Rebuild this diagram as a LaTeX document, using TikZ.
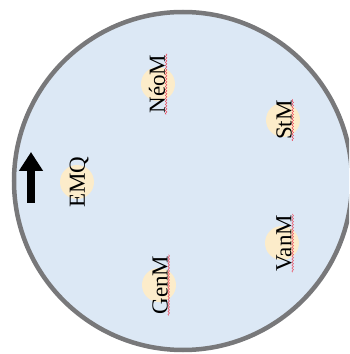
\documentclass[tikz,border=0pt]{standalone}
\usepackage{fontspec}
\setmainfont{Liberation Serif}
\definecolor{plate}{RGB}{220,232,245}
\definecolor{rim}{RGB}{120,120,122}
\definecolor{blob}{RGB}{252,236,202}
\definecolor{squiggle}{RGB}{235,70,90}
\usetikzlibrary{arrows.meta,decorations.pathmorphing}

\tikzset{
  spot/.style={circle, fill=blob, minimum size=34pt, inner sep=0pt},
  tag/.style={rotate=90, inner sep=0.8pt, font=\fontsize{23}{23}\selectfont},
  typo/.style={draw=squiggle, line width=0.5pt, decorate, decoration={snake, segment length=3pt, amplitude=0.8pt}}
}

\begin{document}
\begin{tikzpicture}[x=1pt, y=1pt]
  \useasboundingbox (0,0) rectangle (349,354);
  \clip (0,0) rectangle (349,354);

  %% Disc
  \draw[rim, fill=plate, line width=4.5pt] (183,173) circle (169);

  %% Spots
  \node[spot] (neomspot) at (158,270) {};
  \node[spot] (stmspot)  at (283,234) {};
  \node[spot] (emqspot)  at (77,172)  {};
  \node[spot] (vanmspot) at (282,111) {};
  \node[spot] (genmspot) at (159,69)  {};

  %% Labels
  \node[tag] (neom) at (157,270) {NéoM};
  \node[tag] (stm)  at (284,234) {StM};
  \node[tag] (emq)  at (79,172)  {EMQ};
  \node[tag] (vanm) at (284,111) {VanM};
  \node[tag] (genm) at (160,69)  {GenM};

  %% Spelling marks
  \draw[typo] (neom.south west) -- (neom.south east);
  \draw[typo] (stm.south west)  -- (stm.south east);
  \draw[typo] (vanm.south west) -- (vanm.south east);
  \draw[typo] (genm.south west) -- (genm.south east);

  %% Arrow
  \coordinate (tail) at (31,151);
  \coordinate (head) at (31,202);
  \draw[line width=8pt, -{Triangle[width=23pt, length=19pt]}] (tail) -- (head);
\end{tikzpicture}
\end{document}
